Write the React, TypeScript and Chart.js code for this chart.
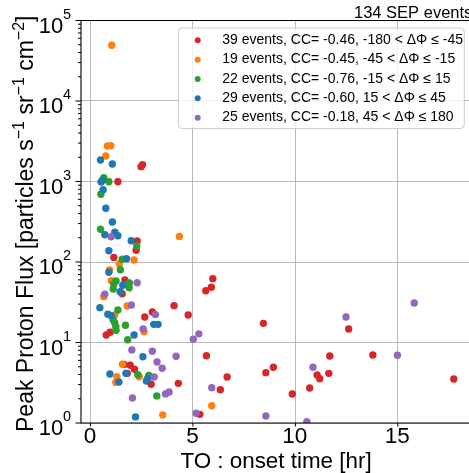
import React, { useEffect, useRef } from "react";
import { Chart, registerables } from "chart.js";

Chart.register(...registerables);

const FONT = '"Liberation Sans", Arial, Helvetica, sans-serif';

// ---- data (TO onset time [hr], peak proton flux) ----
const redOnset = [2.47, 2.54, 1.34, 2.28, 2.23, 1.14, 1.68, 1.55, 3.02, 4.08, 2.65, 0.77, 0.96, 1.94, 2.15, 1.8, 2.96, 4.29, 5.97, 5.9, 5.63, 4.77, 8.44, 12.6, 5.66, 8.93, 8.56, 11.68, 13.78, 11.06, 11.19, 11.63, 6.67, 17.73, 6.34, 9.85, 10.7, 5.34, 1.64];
const redFlux = [1530, 1620, 995, 182, 140, 114, 59.7, 40.4, 23.9, 28.7, 20.7, 12.4, 13.4, 5.21, 4.65, 4.14, 3.03, 3.11, 62.1, 48.5, 44.0, 22.0, 17.3, 14.7, 6.86, 4.92, 4.22, 6.8, 7.0, 3.95, 3.55, 4.14, 3.73, 3.52, 2.59, 2.29, 2.72, 1.28, 5.33];

const orangeOnset = [1.04, 0.83, 0.995, 0.75, 4.34, 2.13, 1.41, 0.93, 1.02, 0.65, 1.79, 1.19, 2.62, 1.56, 2.38, 1.29, 1.24, 3.53, 5.92];
const orangeFlux = [49200, 2760, 2785, 2074, 208, 106, 95.2, 79.6, 58.6, 37.1, 28.4, 22.0, 13.6, 5.36, 3.76, 3.76, 3.2, 1.26, 1.64];

const greenOnset = [0.65, 0.9, 0.51, 0.49, 2.26, 1.55, 1.46, 1.25, 1.14, 1.9, 1.11, 1.89, 1.34, 1.19, 1.24, 1.25, 1.71, 1.82, 2.31, 2.85, 3.24, 1.11];
const greenFlux = [1115, 995, 693, 255, 158, 108, 80.2, 58.1, 53.3, 54.8, 46.2, 47.9, 25.3, 17.5, 15.7, 14.2, 16.4, 10.8, 3.98, 3.91, 2.17, 19.0];

const blueOnset = [0.49, 1.07, 0.59, 0.62, 0.75, 1.07, 0.7, 1.19, 1.34, 1.99, 0.9, 1.76, 0.9, 1.58, 1.45, 0.46, 0.85, 1.02, 3.09, 3.3, 2.13, 2.56, 1.73, 0.95, 2.8, 2.73, 1.39, 2.2, 0.52];
const blueFlux = [1849, 1650, 1035, 791, 465, 314, 218, 234, 212, 184, 138, 110, 74.5, 51.4, 42.8, 27.1, 22.4, 21.5, 16.8, 16.8, 12.4, 6.66, 4.14, 4.06, 3.59, 3.32, 3.23, 1.19, 985];

const purpleOnset = [1.01, 2.28, 0.7, 2.0, 3.17, 2.57, 2.02, 3.02, 4.18, 3.25, 3.5, 3.11, 3.66, 3.84, 2.05, 12.47, 15.8, 5.29, 5.02, 10.86, 14.98, 5.92, 5.16, 8.56, 10.56];
const purpleFlux = [206, 55.3, 39.7, 29.2, 22.2, 14.7, 8.07, 7.78, 6.74, 5.73, 4.78, 3.73, 2.29, 2.43, 2.04, 20.7, 31.0, 12.8, 11.0, 4.92, 6.93, 2.75, 1.32, 1.22, 1.04];

const groupLabels = [
  "39 events, CC= -0.46, -180 < ΔΦ ≤ -45",
  "19 events, CC= -0.45, -45 < ΔΦ ≤ -15",
  "22 events, CC= -0.76, -15 < ΔΦ ≤ 15",
  "29 events, CC= -0.60, 15 < ΔΦ ≤ 45",
  "25 events, CC= -0.18, 45 < ΔΦ ≤ 180",
];
const groupColors = ["#d62728", "#ff7f0e", "#2ca02c", "#1f77b4", "#9467bd"];
const groupOnsets = [redOnset, orangeOnset, greenOnset, blueOnset, purpleOnset];
const groupFluxes = [redFlux, orangeFlux, greenFlux, blueFlux, purpleFlux];

const xTickValues = [0, 5, 10, 15];
const yTickExponents = [0, 1, 2, 3, 4, 5];
const titleText = "134 SEP events";
const xTitle = "TO : onset time [hr]";
const yTitleParts: [string, boolean][] = [
  ["Peak Proton Flux [particles s", false],
  ["−1", true],
  [" sr", false],
  ["−1", true],
  [" cm", false],
  ["−2", true],
  ["]", false],
];

const decorPlugin = {
  id: "decor",
  afterDraw(chart: any) {
    const ctx = chart.ctx as CanvasRenderingContext2D;
    const { left, right, top, bottom } = chart.chartArea;
    const xs = chart.scales.x;
    const ys = chart.scales.y;
    ctx.save();

    // spines
    ctx.strokeStyle = "#000";
    ctx.lineWidth = 1.1;
    ctx.beginPath();
    ctx.moveTo(left, top);
    ctx.lineTo(left, bottom);
    ctx.lineTo(right, bottom);
    ctx.lineTo(right, top);
    ctx.closePath();
    ctx.stroke();

    // y ticks (major + minor)
    ctx.lineWidth = 1;
    ctx.beginPath();
    for (let e = 0; e < 5; e++) {
      for (let m = 1; m <= 9; m++) {
        const v = m * Math.pow(10, e);
        const py = ys.getPixelForValue(v);
        const len = m === 1 ? 5.5 : 3;
        ctx.moveTo(left, py);
        ctx.lineTo(left - len, py);
      }
    }
    const pTop = ys.getPixelForValue(1e5);
    ctx.moveTo(left, pTop);
    ctx.lineTo(left - 5.5, pTop);
    // x ticks
    for (const v of xTickValues) {
      const px = xs.getPixelForValue(v);
      ctx.moveTo(px, bottom);
      ctx.lineTo(px, bottom + 3.5);
    }
    ctx.stroke();

    // y tick labels 10^n
    ctx.fillStyle = "#000";
    ctx.textBaseline = "alphabetic";
    for (const e of yTickExponents) {
      const py = ys.getPixelForValue(Math.pow(10, e));
      ctx.textAlign = "left";
      ctx.font = `14.5px ${FONT}`;
      ctx.fillText(String(e), 63, py - 2);
      ctx.textAlign = "right";
      ctx.font = `22px ${FONT}`;
      ctx.fillText("10", 63.3, py + 12);
    }

    // x tick labels
    ctx.textAlign = "center";
    ctx.font = `22.5px ${FONT}`;
    for (const v of xTickValues) {
      ctx.fillText(String(v), xs.getPixelForValue(v) - 0.5, 443.3);
    }

    // x title
    ctx.font = `22.4px ${FONT}`;
    ctx.fillText(xTitle, (left + right) / 2, 468);

    // y title (rotated, with superscripts)
    const mainFont = `23px ${FONT}`;
    const supFont = `16px ${FONT}`;
    let total = 0;
    for (const [t, sup] of yTitleParts) {
      ctx.font = sup ? supFont : mainFont;
      total += ctx.measureText(t).width;
    }
    ctx.save();
    ctx.translate(33, (top + bottom) / 2 + 2);
    ctx.rotate(-Math.PI / 2);
    ctx.textAlign = "left";
    let cx = -total / 2;
    for (const [t, sup] of yTitleParts) {
      ctx.font = sup ? supFont : mainFont;
      ctx.fillText(t, cx, sup ? -9.5 : 0);
      cx += ctx.measureText(t).width;
    }
    ctx.restore();

    // title top-right
    ctx.textAlign = "left";
    ctx.font = `16.5px ${FONT}`;
    ctx.fillText(titleText, 354, 18.3);

    // legend box
    const bx = 178.3, by = 28, bw = 286, bh = 100.5, r = 4;
    ctx.beginPath();
    ctx.moveTo(bx + r, by);
    ctx.lineTo(bx + bw - r, by);
    ctx.quadraticCurveTo(bx + bw, by, bx + bw, by + r);
    ctx.lineTo(bx + bw, by + bh - r);
    ctx.quadraticCurveTo(bx + bw, by + bh, bx + bw - r, by + bh);
    ctx.lineTo(bx + r, by + bh);
    ctx.quadraticCurveTo(bx, by + bh, bx, by + bh - r);
    ctx.lineTo(bx, by + r);
    ctx.quadraticCurveTo(bx, by, bx + r, by);
    ctx.closePath();
    ctx.fillStyle = "rgba(255,255,255,0.8)";
    ctx.fill();
    ctx.strokeStyle = "#cccccc";
    ctx.lineWidth = 1;
    ctx.stroke();

    ctx.font = `14px ${FONT}`;
    ctx.textAlign = "left";
    for (let i = 0; i < groupLabels.length; i++) {
      const ry = 40.3 + i * 19.35;
      ctx.fillStyle = groupColors[i];
      ctx.beginPath();
      ctx.arc(197.7, ry, 3, 0, Math.PI * 2);
      ctx.fill();
      ctx.fillStyle = "#000";
      ctx.fillText(groupLabels[i], 222.3, ry + 3.6);
    }

    ctx.restore();
  },
};

export default function App() {
  const canvasRef = useRef<HTMLCanvasElement | null>(null);

  useEffect(() => {
    const canvas = canvasRef.current;
    if (!canvas) return;
    const datasets = groupLabels.map((label, i) => ({
      label,
      data: groupOnsets[i].map((x, j) => ({ x, y: groupFluxes[i][j] })),
      backgroundColor: groupColors[i],
      borderWidth: 0,
      pointRadius: 3.7,
      pointHoverRadius: 3.7,
      order: groupLabels.length - 1 - i,
    }));
    const chart = new Chart(canvas, {
      type: "scatter",
      data: { datasets },
      plugins: [decorPlugin],
      options: {
        responsive: false,
        animation: false,
        events: [],
        devicePixelRatio: 1,
        layout: { padding: { left: 0, right: 9, top: 20.5, bottom: 0 } },
        plugins: {
          legend: { display: false },
          tooltip: { enabled: false },
          title: { display: false },
        },
        scales: {
          x: {
            type: "linear",
            min: -0.46,
            max: 18.57,
            afterBuildTicks: (s: any) => {
              s.ticks = xTickValues.map((v) => ({ value: v }));
            },
            afterFit: (s: any) => {
              s.height = 50;
            },
            ticks: { display: false },
            grid: { color: "#b8b8b8", lineWidth: 1, drawTicks: false },
            border: { display: false },
          },
          y: {
            type: "logarithmic",
            min: 1,
            max: 1e5,
            afterBuildTicks: (s: any) => {
              s.ticks = yTickExponents.map((e) => ({ value: Math.pow(10, e) }));
            },
            afterFit: (s: any) => {
              s.width = 81;
            },
            ticks: { display: false },
            grid: { color: "#b8b8b8", lineWidth: 1, drawTicks: false },
            border: { display: false },
          },
        },
      } as any,
    });
    return () => chart.destroy();
  }, []);

  return (
    <div
      style={{
        position: "fixed",
        left: 0,
        top: 0,
        width: 469,
        height: 473,
        overflow: "hidden",
        background: "#fff",
      }}
    >
      <canvas ref={canvasRef} width={480} height={473} style={{ display: "block" }} />
    </div>
  );
}
